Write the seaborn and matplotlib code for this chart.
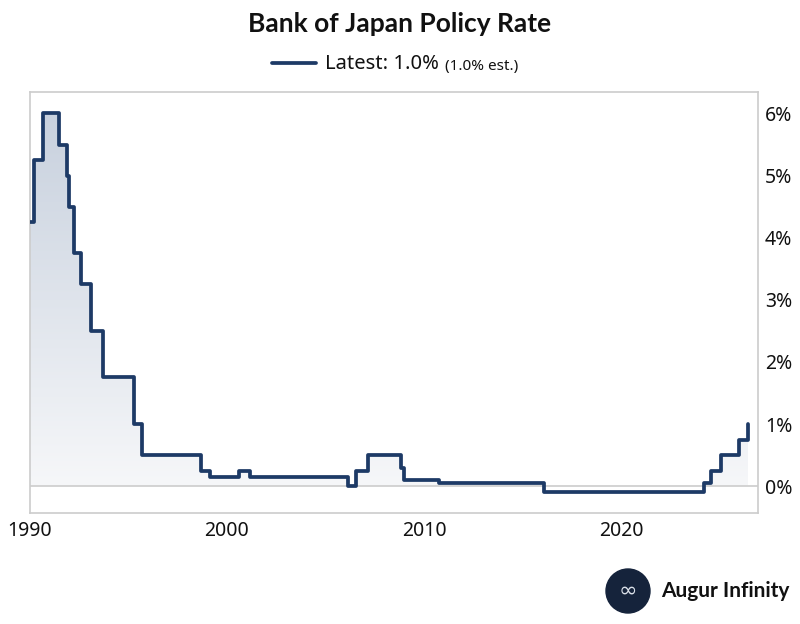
import numpy as np
import pandas as pd
import matplotlib
matplotlib.use("Agg")
import matplotlib.pyplot as plt
import matplotlib.dates as mdates
from matplotlib.colors import LinearSegmentedColormap
from matplotlib.patches import Circle
from matplotlib.lines import Line2D
import seaborn as sns

# --- DATA ---
# date of each policy change and the new rate (%)
dates = ["1990-01-01", "1990-03-20", "1990-08-30", "1991-07-01", "1991-11-14",
         "1991-12-30", "1992-04-01", "1992-07-27", "1993-02-04", "1993-09-21",
         "1995-04-14", "1995-09-08", "1998-09-09", "1999-02-12", "2000-08-11",
         "2001-03-01", "2006-03-01", "2006-07-14", "2007-02-21", "2008-10-31",
         "2008-12-19", "2010-10-05", "2016-01-29", "2024-03-19", "2024-07-31",
         "2025-01-24", "2025-12-19", "2026-06-15"]
rates = [4.25, 5.25, 6.0, 5.5, 5.0, 4.5, 3.75, 3.25, 2.5, 1.75, 1.0, 0.5, 0.25,
         0.15, 0.25, 0.15, 0.0, 0.25, 0.5, 0.3, 0.1, 0.05, -0.1, 0.05, 0.25,
         0.5, 0.75, 1.0]
year_ticks = [1990, 2000, 2010, 2020]
pct_ticks = [0, 1, 2, 3, 4, 5, 6]

title_str = "Bank of Japan Policy Rate"
legend_str = "Latest: 1.0%"
legend_note = "(1.0% est.)"

df = pd.DataFrame({"date": pd.to_datetime(dates), "rate": rates})

# --- STYLE ---
sns.set_theme(style="white")
plt.rcParams["font.family"] = ["Noto Sans", "DejaVu Sans"]
navy = "#1d3a66"
grey = "#cccccc"
ink = "#111111"

fig = plt.figure(figsize=(8, 6.24), dpi=100)
ax = fig.add_axes([0.0375, 0.178, 0.91, 0.675])

x0 = pd.Timestamp("1990-01-01")
x1 = pd.Timestamp("2026-12-15")
ylo, yhi = -0.43, 6.35

# gradient fill under the step line
poly = ax.fill_between(df["date"], df["rate"], 0, step="post", color="none")
cmap = LinearSegmentedColormap.from_list("fill", ["#f6f7f9", "#c8d1de"])
grad = np.linspace(0, 1, 256).reshape(-1, 1)
img = ax.imshow(grad, cmap=cmap, aspect="auto", origin="lower",
                extent=[mdates.date2num(x0), mdates.date2num(x1), 0, 6.0],
                zorder=1)
img.set_clip_path(poly.get_paths()[0], transform=ax.transData)

ax.axhline(0, color=grey, lw=1.2, zorder=2)
sns.lineplot(data=df, x="date", y="rate", ax=ax, color=navy, lw=2.7,
             drawstyle="steps-post", zorder=3, legend=False)

ax.set_xlim(x0, x1)
ax.set_ylim(ylo, yhi)
ax.set_xticks([pd.Timestamp(f"{y}-01-01") for y in year_ticks])
ax.set_xticklabels([str(y) for y in year_ticks])
ax.set_yticks(pct_ticks)
ax.set_yticklabels([f"{p}%" for p in pct_ticks])
ax.yaxis.tick_right()
ax.tick_params(axis="both", length=0, labelsize=14, colors=ink)
ax.tick_params(axis="y", pad=5)
ax.tick_params(axis="x", pad=6)
ax.set_xlabel("")
ax.set_ylabel("")
for s in ax.spines.values():
    s.set_color(grey)
    s.set_linewidth(1.2)

# legend row (drawn by hand so the note sits on the same line)
fig.add_artist(Line2D([0.340, 0.395], [0.899, 0.899], transform=fig.transFigure,
                      color=navy, lw=2.7))
fig.text(0.406, 0.898, legend_str, fontsize=14.5, va="center", ha="left", color=ink)
fig.text(0.556, 0.894, legend_note, fontsize=11, va="center", ha="left", color=ink)

fig.text(0.5, 0.962, title_str, ha="center", va="center", fontsize=19,
         fontweight="bold", color=ink, family=["Lato", "DejaVu Sans"])

# logo
circ = Circle((6.28, 0.33), 0.22, transform=fig.dpi_scale_trans,
              color="#15233b", zorder=5)
fig.patches.append(circ)
fig.text(0.785, 0.053, "∞", ha="center", va="center", fontsize=16,
         color="#d9dfe8", zorder=6, family=["DejaVu Sans"])
fig.text(0.827, 0.053, "Augur Infinity", ha="left", va="center", fontsize=15,
         fontweight="bold", color=ink, family=["Lato", "DejaVu Sans"])

fig.savefig("out.png", dpi=100, facecolor="white")
